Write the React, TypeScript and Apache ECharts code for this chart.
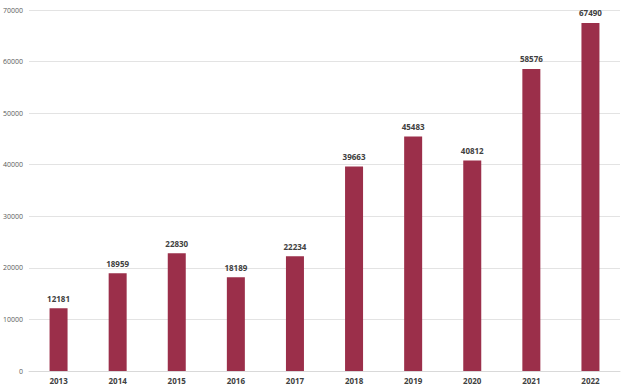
import React, { useEffect, useRef } from "react";
import * as echarts from "echarts";

const years = ["2013", "2014", "2015", "2016", "2017", "2018", "2019", "2020", "2021", "2022"];
const values = [12181, 18959, 22830, 18189, 22234, 39663, 45483, 40812, 58576, 67490];

export default function App() {
  const ref = useRef<HTMLDivElement>(null);
  useEffect(() => {
    if (!ref.current) return;
    const chart = echarts.init(ref.current, undefined, { renderer: "svg" });
    chart.setOption({
      animation: false,
      backgroundColor: "#ffffff",
      grid: { left: 28, right: 4, top: 10, bottom: 16, containLabel: false },
      xAxis: {
        type: "category",
        data: years,
        axisLine: { show: true, lineStyle: { color: "#d9d9d9", width: 1 } },
        axisTick: { show: false },
        axisLabel: {
          color: "#404040",
          fontSize: 8,
          fontWeight: "bold",
          fontFamily: "Open Sans, sans-serif",
          margin: 5,
        },
      },
      yAxis: {
        type: "value",
        min: 0,
        max: 70000,
        interval: 10000,
        axisLine: { show: false },
        axisTick: { show: false },
        splitLine: { lineStyle: { color: "#e3e3e3", width: 1 } },
        axisLabel: {
          color: "#595959",
          fontSize: 7,
          fontFamily: "Open Sans, sans-serif",
          margin: 6,
          formatter: (v: number) => String(v),
        },
      },
      series: [
        {
          type: "bar",
          data: values,
          barWidth: 18,
          itemStyle: { color: "#9b2f4a" },
          label: {
            show: true,
            position: "top",
            distance: 6,
            color: "#404040",
            fontSize: 8,
            fontWeight: "bold",
            fontFamily: "Open Sans, sans-serif",
          },
        },
      ],
    });
    return () => chart.dispose();
  }, []);
  return (
    <div
      ref={ref}
      style={{ position: "fixed", left: 0, top: 0, width: 624, height: 387 }}
    />
  );
}
